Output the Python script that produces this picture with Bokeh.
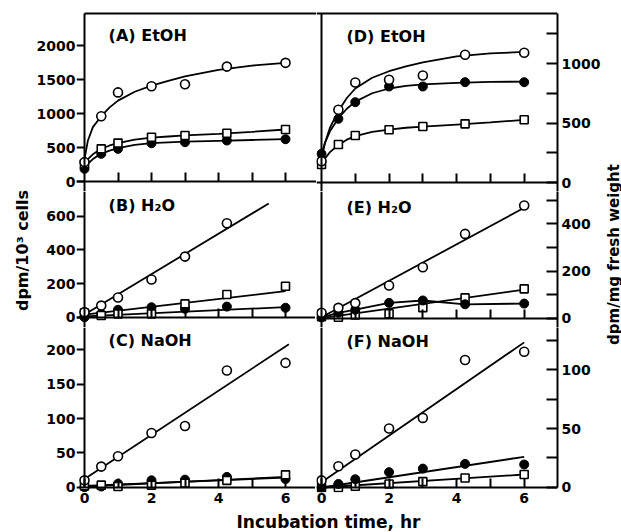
import math
from bokeh.plotting import figure
from bokeh.layouts import gridplot, column, row
from bokeh.models import Range1d, LinearAxis, FixedTicker, Label
from bokeh.embed import file_html
from bokeh.resources import INLINE

# ---------------- data ----------------
hours = [0, 0.5, 1, 2, 3, 4.25, 6]
curve_x = [0, 0.1, 0.25, 0.5, 0.75, 1, 1.5, 2, 2.5, 3, 4, 5, 6]

# (A) EtOH, dpm/10^3 cells
a_open = [285, 960, 1310, 1400, 1430, 1690, 1745]
a_square = [260, 480, 565, 650, 676, 710, 765]
a_filled = [187, 407, 480, 563, 578, 603, 622]
a_open_curve = [330, 600, 800, 960, 1090, 1190, 1320, 1410, 1480, 1545, 1640, 1705, 1745]
a_square_curve = [260, 330, 400, 480, 530, 565, 615, 645, 662, 678, 700, 730, 765]
a_filled_curve = [190, 260, 330, 410, 455, 490, 540, 565, 576, 585, 598, 610, 622]

# (B) H2O, dpm/10^3 cells
b_open = [30, 69, 117, 224, 360, 558]
b_square = [25, 10, 20, 20, 79, 135, 184]
b_filled = [0, 20, 44, 59, 50, 63, 56]
b_open_fit_x = [0, 5.5]
b_open_fit = [16, 676]
fit_x = [0, 6]
b_square_fit = [15, 155]
b_filled_fit = [5, 60]

# (C) NaOH, dpm/10^3 cells
c_open = [10, 30, 45, 79, 89, 170, 181]
c_square = [2, 3, 1, 3, 6, 10, 18]
c_filled = [0, 1, 5, 10, 11, 15, 12]
c_open_fit_x = [0, 6.1]
c_open_fit = [12, 208]
c_square_fit = [1, 15]
c_filled_fit = [2, 14]

# (D) EtOH, dpm/mg fresh weight
d_open = [179, 611, 840, 863, 899, 1073, 1090]
d_filled = [241, 535, 675, 807, 807, 843, 843]
d_square = [151, 319, 395, 443, 471, 493, 527]
d_open_curve = [200, 330, 460, 600, 710, 790, 880, 935, 975, 1010, 1060, 1085, 1097]
d_filled_curve = [236, 330, 430, 540, 620, 680, 750, 790, 812, 825, 838, 845, 848]
d_square_curve = [150, 200, 255, 315, 360, 390, 425, 445, 460, 470, 487, 505, 527]

# (E) H2O, dpm/mg fresh weight
e_open = [24, 45, 65, 139, 216, 357, 477]
e_filled = [5, 24, 37, 66, 76, 60, 63]
e_square = [8, 5, 15, 20, 46, 87, 125]
e_open_fit = [5, 467]
e_square_fit = [2, 122]

# (F) NaOH, dpm/mg fresh weight
f_open = [6, 18, 28, 50, 59, 108, 115]
f_filled = [0, 3, 7, 13, 16, 20, 19.5]
f_square = [0, 0, 1, 3, 5, 8, 11]
f_open_fit = [4.5, 123]
f_filled_fit = [0, 26]
f_square_fit = [0, 11]

# axis ticks / labels
a_ticks = [0, 500, 1000, 1500, 2000]
b_ticks = [0, 200, 400, 600]
c_ticks = [0, 50, 100, 150, 200]
d_ticks = [0, 500, 1000]
d_minor = [250, 750, 1250]
e_ticks = [0, 200, 400]
e_minor = [100, 300, 500]
f_ticks = [0, 50, 100]
f_minor = [25, 75, 125]
x_inner_ticks = [1, 2, 3, 4, 5, 6]
x_label_ticks = [0, 2, 4, 6]
x_label_minor = [1, 3, 5]

titles = ["(A) EtOH", "(B) H\u2082O", "(C) NaOH", "(D) EtOH", "(E) H\u2082O", "(F) NaOH"]
left_label = "dpm/10\u00b3 cells"
right_label = "dpm/mg fresh weight"
x_label = "Incubation time, hr"

# ---------------- styling / geometry ----------------
FONT = "DejaVu Sans"
LW = 2
TICK_FS = "14px"

LEFT_XR = (-0.2388, 6.925)
RIGHT_XR = (-0.148, 6.986)

A_YR = (-147.0, 2500.0)
A_TOP = 2470.6
B_YR = (-61.2, 746.9)
C_YR = (-7.7, 232.5)
D_YR = (-75.6, 1437.0)
D_TOP = 1420.2
E_YR = (-38.0, 535.9)
F_YR = (-4.24, 135.6)

W_L, W_R = 33, 20          # side strips holding the y titles
LW_F, RW_F = 240, 241      # frame widths
ML, MR = 42, 44            # borders for tick labels
H1, H2, H3 = 180, 136, 165 # frame heights
TOP_B, BOT_B = 11, 18
TITLE_H = 21
GRID_H = TOP_B + H1 + H2 + H3 + BOT_B


def make_fig(xr, yr, fw, fh, mbl, mbr, mbt, mbb):
    p = figure(x_range=Range1d(*xr), y_range=Range1d(*yr),
               frame_width=fw, frame_height=fh,
               min_border_left=mbl, min_border_right=mbr,
               min_border_top=mbt, min_border_bottom=mbb,
               toolbar_location=None, output_backend="svg",
               x_axis_location=None, y_axis_location=None)
    p.grid.visible = False
    p.outline_line_color = None
    p.background_fill_color = "white"
    p.border_fill_color = "white"
    return p


def blank_fig(w, h):
    p = figure(width=w, height=h, x_range=Range1d(0, w), y_range=Range1d(0, h),
               min_border=0, toolbar_location=None, output_backend="svg",
               x_axis_location=None, y_axis_location=None)
    p.grid.visible = False
    p.outline_line_color = None
    return p


def style_axis(ax):
    ax.axis_line_color = "black"
    ax.axis_line_width = LW
    ax.major_tick_line_color = "black"
    ax.major_tick_line_width = LW
    ax.minor_tick_line_color = "black"
    ax.minor_tick_line_width = LW
    ax.major_label_text_font = FONT
    ax.major_label_text_font_style = "bold"
    ax.major_label_text_font_size = TICK_FS
    ax.major_label_text_color = "black"
    ax.major_tick_in = 0
    ax.major_tick_out = 0
    ax.minor_tick_in = 0
    ax.minor_tick_out = 0


def line_axis(p, side, loc, ticks=(), minor=(), tick_in=0, tick_out=0, bounds=None):
    """Axis drawn at a fixed data location: line and ticks only."""
    ax = LinearAxis(fixed_location=loc,
                    ticker=FixedTicker(ticks=list(ticks), minor_ticks=list(minor)))
    style_axis(ax)
    ax.major_tick_in = tick_in
    ax.major_tick_out = tick_out
    ax.minor_tick_in = tick_in
    ax.minor_tick_out = tick_out
    ax.major_label_text_color = None
    if bounds is not None:
        ax.bounds = bounds
    p.add_layout(ax, side)


def label_axis(p, side, ticks, standoff):
    """Axis at the frame edge that only carries tick labels."""
    ax = LinearAxis(ticker=FixedTicker(ticks=list(ticks), minor_ticks=[]))
    style_axis(ax)
    ax.axis_line_color = None
    ax.major_tick_line_color = None
    ax.minor_tick_line_color = None
    ax.major_label_standoff = standoff
    p.add_layout(ax, side)


def right_axis(p, ticks, minor, bounds=None):
    ax = LinearAxis(ticker=FixedTicker(ticks=list(ticks), minor_ticks=list(minor)))
    style_axis(ax)
    ax.major_tick_in = 11
    ax.minor_tick_in = 11
    ax.major_label_standoff = 4
    if bounds is not None:
        ax.bounds = bounds
    p.add_layout(ax, "right")


def line(p, x, y):
    p.line(x, y, line_color="black", line_width=1.8)


def open_pts(p, x, y):
    p.scatter(x, y, marker="circle", size=9, fill_color="white",
              line_color="black", line_width=1.6)


def square_pts(p, x, y):
    p.scatter(x, y, marker="square", size=8, fill_color="white",
              line_color="black", line_width=1.6)


def filled_pts(p, x, y):
    p.scatter(x, y, marker="circle", size=9, fill_color="black",
              line_color="black", line_width=1)


def title(p, x, y, text):
    p.add_layout(Label(x=x, y=y, text=text, text_font=FONT, text_font_style="bold",
                       text_font_size="16px", text_align="left", text_baseline="middle",
                       text_color="black"))


# ---------------- panels ----------------
# A
pA = make_fig(LEFT_XR, A_YR, LW_F, H1, ML, 0, TOP_B, 0)
line(pA, curve_x, a_open_curve)
line(pA, curve_x, a_square_curve)
line(pA, curve_x, a_filled_curve)
filled_pts(pA, hours, a_filled)
square_pts(pA, hours, a_square)
open_pts(pA, hours, a_open)
line_axis(pA, "left", 0, a_ticks, tick_out=8, bounds=(A_YR[0], A_TOP))
label_axis(pA, "left", a_ticks, 1)
line_axis(pA, "below", 0, x_inner_ticks, tick_in=9)
line_axis(pA, "above", A_TOP, bounds=(0, LEFT_XR[1]))
title(pA, 0.72, 2140, titles[0])

# B
pB = make_fig(LEFT_XR, B_YR, LW_F, H2, ML, 0, 0, 0)
line(pB, b_open_fit_x, b_open_fit)
line(pB, fit_x, b_square_fit)
line(pB, fit_x, b_filled_fit)
filled_pts(pB, hours, b_filled)
square_pts(pB, hours, b_square)
open_pts(pB, hours[:len(b_open)], b_open)
line_axis(pB, "left", 0, b_ticks, tick_out=8)
label_axis(pB, "left", b_ticks, 1)
line_axis(pB, "below", 0, x_inner_ticks, tick_in=9)
title(pB, 0.72, 664, titles[1])

# C
pC = make_fig(LEFT_XR, C_YR, LW_F, H3, ML, 0, 0, BOT_B)
line(pC, c_open_fit_x, c_open_fit)
line(pC, fit_x, c_square_fit)
line(pC, fit_x, c_filled_fit)
filled_pts(pC, hours, c_filled)
square_pts(pC, hours, c_square)
open_pts(pC, hours, c_open)
line_axis(pC, "left", 0, c_ticks, tick_out=8, bounds=(0, C_YR[1]))
label_axis(pC, "left", c_ticks, 1)
line_axis(pC, "below", 0, x_label_ticks, x_label_minor, tick_in=9, bounds=(0, LEFT_XR[1]))
label_axis(pC, "below", x_label_ticks, 0)
title(pC, 0.72, 213, titles[2])

# D
pD = make_fig(RIGHT_XR, D_YR, RW_F, H1, 0, MR, TOP_B, 0)
line(pD, curve_x, d_open_curve)
line(pD, curve_x, d_filled_curve)
line(pD, curve_x, d_square_curve)
square_pts(pD, hours, d_square)
filled_pts(pD, hours, d_filled)
open_pts(pD, hours, d_open)
line_axis(pD, "left", 0, bounds=(D_YR[0], D_TOP))
right_axis(pD, d_ticks, d_minor, bounds=(D_YR[0], D_TOP))
line_axis(pD, "below", 0, x_inner_ticks, tick_in=9)
line_axis(pD, "above", D_TOP)
title(pD, 0.74, 1223, titles[3])

# E
pE = make_fig(RIGHT_XR, E_YR, RW_F, H2, 0, MR, 0, 0)
line(pE, fit_x, e_open_fit)
line(pE, fit_x, e_square_fit)
line(pE, hours, e_filled)
square_pts(pE, hours, e_square)
filled_pts(pE, hours, e_filled)
open_pts(pE, hours, e_open)
line_axis(pE, "left", 0)
right_axis(pE, e_ticks, e_minor)
line_axis(pE, "below", 0, x_inner_ticks, tick_in=9)
title(pE, 0.74, 470, titles[4])

# F
pF = make_fig(RIGHT_XR, F_YR, RW_F, H3, 0, MR, 0, BOT_B)
line(pF, fit_x, f_open_fit)
line(pF, fit_x, f_filled_fit)
line(pF, fit_x, f_square_fit)
square_pts(pF, hours, f_square)
filled_pts(pF, hours, f_filled)
open_pts(pF, hours, f_open)
line_axis(pF, "left", 0, bounds=(0, F_YR[1]))
right_axis(pF, f_ticks, f_minor, bounds=(0, F_YR[1]))
line_axis(pF, "below", 0, x_label_ticks, x_label_minor, tick_in=9)
label_axis(pF, "below", x_label_ticks, 0)
title(pF, 0.74, 124, titles[5])

grid = gridplot([[pA, pD], [pB, pE], [pC, pF]], toolbar_location=None)

# y titles in side strips
pL = blank_fig(W_L, GRID_H)
pL.add_layout(Label(x=22, y=GRID_H - 250, text=left_label, angle=math.pi / 2,
                    text_font=FONT, text_font_style="bold", text_font_size="16px",
                    text_align="center", text_baseline="middle", text_color="black"))
pR = blank_fig(W_R, GRID_H)
pR.add_layout(Label(x=10, y=GRID_H - 254, text=right_label, angle=math.pi / 2,
                    text_font=FONT, text_font_style="bold", text_font_size="15px",
                    text_align="center", text_baseline="middle", text_color="black"))

TOTAL_W = W_L + ML + LW_F + RW_F + MR + W_R
pT = blank_fig(TOTAL_W, TITLE_H)
pT.add_layout(Label(x=328, y=10, text=x_label, text_font=FONT, text_font_style="bold",
                    text_font_size="17px", text_align="center", text_baseline="middle",
                    text_color="black"))

layout = column(row(pL, grid, pR), pT)

open("out.html", "w").write(file_html(layout, INLINE))
